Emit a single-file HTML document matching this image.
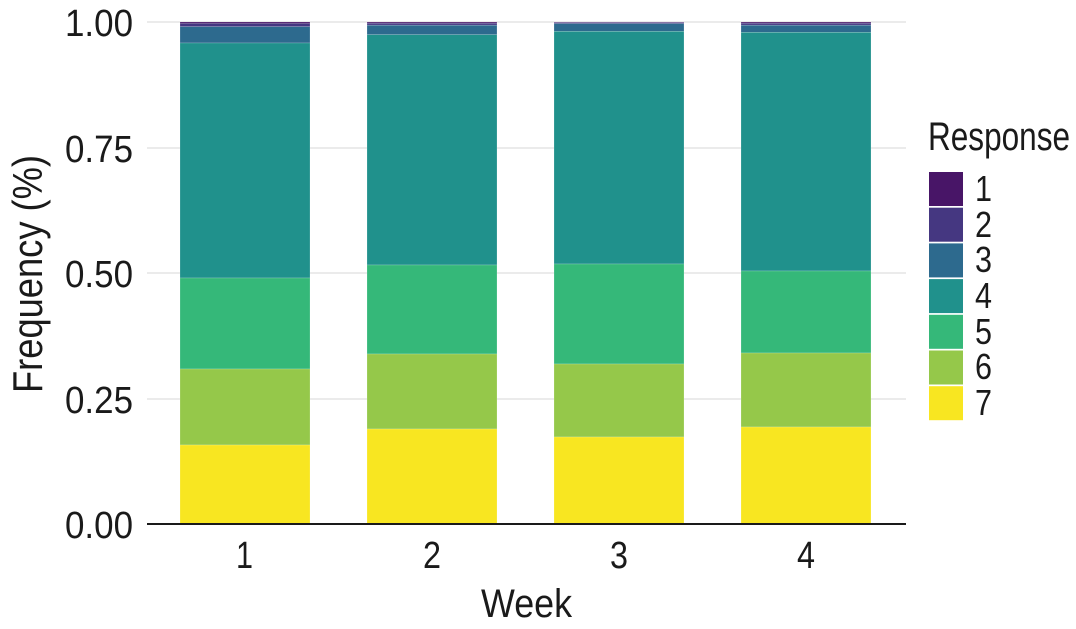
<!DOCTYPE html>
<html><head><meta charset="utf-8"><style>
html,body{margin:0;padding:0;background:#fff;}
svg text{font-family:"Liberation Sans",sans-serif;fill:#1a1a1a;}
</style></head><body>
<svg width="1076" height="624" viewBox="0 0 1076 624" xmlns="http://www.w3.org/2000/svg">
<g stroke="#ebebeb" stroke-width="2">
<line x1="147" y1="22" x2="906" y2="22"/><line x1="147" y1="148" x2="906" y2="148"/>
<line x1="147" y1="273" x2="906" y2="273"/><line x1="147" y1="399" x2="906" y2="399"/>
</g>
<g stroke="#fff" stroke-width="0.6" stroke-opacity="0.3">
<rect x="180" y="22" width="130" height="1.5" fill="#481567"/>
<rect x="180" y="23.5" width="130" height="3.2" fill="#453781"/>
<rect x="180" y="26.7" width="130" height="16.3" fill="#2D6A8E"/>
<rect x="180" y="43" width="130" height="235" fill="#20918C"/>
<rect x="180" y="278" width="130" height="91" fill="#35B879"/>
<rect x="180" y="369" width="130" height="76" fill="#95C84A"/>
<rect x="180" y="445" width="130" height="79" fill="#F8E621"/>
<rect x="367" y="22" width="130" height="1.2" fill="#481567"/>
<rect x="367" y="23.2" width="130" height="2" fill="#453781"/>
<rect x="367" y="25.2" width="130" height="9.5" fill="#2D6A8E"/>
<rect x="367" y="34.7" width="130" height="230.3" fill="#20918C"/>
<rect x="367" y="265" width="130" height="89" fill="#35B879"/>
<rect x="367" y="354" width="130" height="75" fill="#95C84A"/>
<rect x="367" y="429" width="130" height="95" fill="#F8E621"/>
<rect x="554" y="22" width="130" height="0.6" fill="#481567"/>
<rect x="554" y="22.6" width="130" height="1" fill="#453781"/>
<rect x="554" y="23.6" width="130" height="7.7" fill="#2D6A8E"/>
<rect x="554" y="31.3" width="130" height="232.7" fill="#20918C"/>
<rect x="554" y="264" width="130" height="100" fill="#35B879"/>
<rect x="554" y="364" width="130" height="73" fill="#95C84A"/>
<rect x="554" y="437" width="130" height="87" fill="#F8E621"/>
<rect x="741" y="22" width="130" height="1.2" fill="#481567"/>
<rect x="741" y="23.2" width="130" height="2" fill="#453781"/>
<rect x="741" y="25.2" width="130" height="7.1" fill="#2D6A8E"/>
<rect x="741" y="32.3" width="130" height="238.7" fill="#20918C"/>
<rect x="741" y="271" width="130" height="82" fill="#35B879"/>
<rect x="741" y="353" width="130" height="74" fill="#95C84A"/>
<rect x="741" y="427" width="130" height="97" fill="#F8E621"/>
</g>
<line x1="147" y1="524" x2="906" y2="524" stroke="#1a1a1a" stroke-width="2"/>
<g font-size="38" lengthAdjust="spacingAndGlyphs">
<text x="65" y="36" textLength="68" lengthAdjust="spacingAndGlyphs">1.00</text>
<text x="65" y="162" textLength="68" lengthAdjust="spacingAndGlyphs">0.75</text>
<text x="65" y="287" textLength="68" lengthAdjust="spacingAndGlyphs">0.50</text>
<text x="65" y="413" textLength="68" lengthAdjust="spacingAndGlyphs">0.25</text>
<text x="65" y="538" textLength="68" lengthAdjust="spacingAndGlyphs">0.00</text>
</g>
<g font-size="38">
<text x="236" y="568" textLength="17" lengthAdjust="spacingAndGlyphs">1</text>
<text x="423" y="568" textLength="18" lengthAdjust="spacingAndGlyphs">2</text>
<text x="610" y="568" textLength="18" lengthAdjust="spacingAndGlyphs">3</text>
<text x="797" y="568" textLength="18" lengthAdjust="spacingAndGlyphs">4</text>
</g>
<text x="481" y="617" font-size="40" textLength="91" lengthAdjust="spacingAndGlyphs">Week</text>
<text transform="translate(42,393) rotate(-90)" font-size="42" textLength="238" lengthAdjust="spacingAndGlyphs">Frequency (%)</text>
<text x="928" y="150" font-size="40" textLength="142" lengthAdjust="spacingAndGlyphs">Response</text>
<g>
<rect x="929" y="172" width="34" height="34" fill="#481567"/>
<rect x="929" y="207.7" width="34" height="34" fill="#453781"/>
<rect x="929" y="243.4" width="34" height="34" fill="#2D6A8E"/>
<rect x="929" y="279.1" width="34" height="34" fill="#20918C"/>
<rect x="929" y="314.8" width="34" height="34" fill="#35B879"/>
<rect x="929" y="350.5" width="34" height="34" fill="#95C84A"/>
<rect x="929" y="386.2" width="34" height="34" fill="#F8E621"/>
</g>
<g font-size="36">
<text x="975" y="201" textLength="17" lengthAdjust="spacingAndGlyphs">1</text>
<text x="975" y="237" textLength="17" lengthAdjust="spacingAndGlyphs">2</text>
<text x="975" y="272" textLength="17" lengthAdjust="spacingAndGlyphs">3</text>
<text x="975" y="308" textLength="17" lengthAdjust="spacingAndGlyphs">4</text>
<text x="975" y="344" textLength="17" lengthAdjust="spacingAndGlyphs">5</text>
<text x="975" y="379" textLength="17" lengthAdjust="spacingAndGlyphs">6</text>
<text x="975" y="415" textLength="17" lengthAdjust="spacingAndGlyphs">7</text>
</g>
</svg>
</body></html>
